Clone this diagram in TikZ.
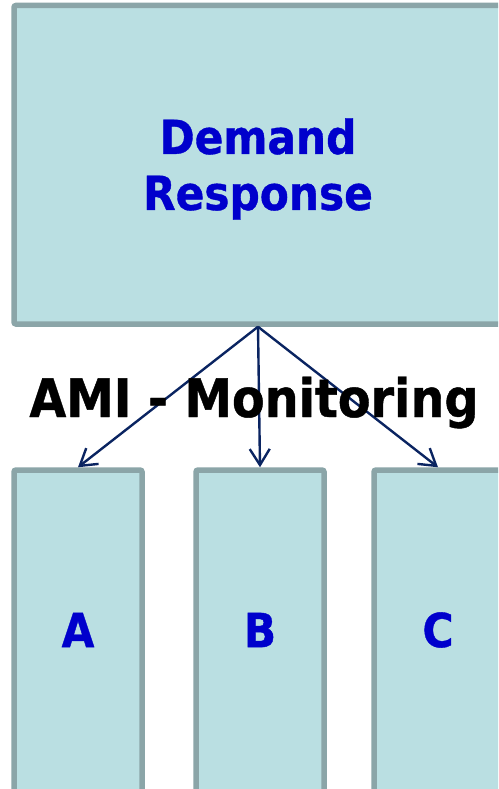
\documentclass[tikz,border=0pt]{standalone}
\usepackage{fontspec}
\usepackage{tikz}
\usetikzlibrary{arrows.meta}

\newfontfamily\boxfont[FakeStretch=0.9, FakeBold=0.8]{DejaVu Sans}

\tikzset{
	box/.style={draw=boxgray, fill=boxfill, line width=5.5pt, rounded corners=2pt, inner sep=0pt},
	boxtext/.style={font=\boxfont\bfseries\fontsize{47}{56}\selectfont, text=textblue, inner sep=0pt},
	link/.style={-{Straight Barb[length=16pt,width=20pt]}, draw=arrowblue, line width=2.4pt}
}

\begin{document}
\begin{tikzpicture}[x=1pt,y=-1pt]
	\definecolor{boxfill}{RGB}{186,223,226}
	\definecolor{boxgray}{RGB}{139,165,168}
	\definecolor{textblue}{RGB}{0,0,204}
	\definecolor{arrowblue}{RGB}{10,36,97}

	\useasboundingbox (0,0) rectangle (498,789);
	\clip (0,0) rectangle (498,789);

	% top box
	\node[box, minimum width=488pt, minimum height=318.5pt] (dr) at (258,164.75) {};
	\node[boxtext, align=center] (drtext) at (258,169) {Demand\\Response};

	% bottom boxes
	\foreach \name/\x/\txt in {a/78/A, b/260/B, c/438/C} {
		\node[box, minimum width=128pt, minimum height=330pt] (\name) at (\x,635) {};
		\node[boxtext] (\name txt) at (\x,630) {\txt};
	}

	\foreach \name in {a,b,c}
		\draw[link] (dr.south) -- (\name.north);

	\node[font=\boxfont\bfseries\fontsize{53}{60}\selectfont, anchor=base, inner sep=0pt] (ami) at (254,417) {AMI - Monitoring};
\end{tikzpicture}
\end{document}
